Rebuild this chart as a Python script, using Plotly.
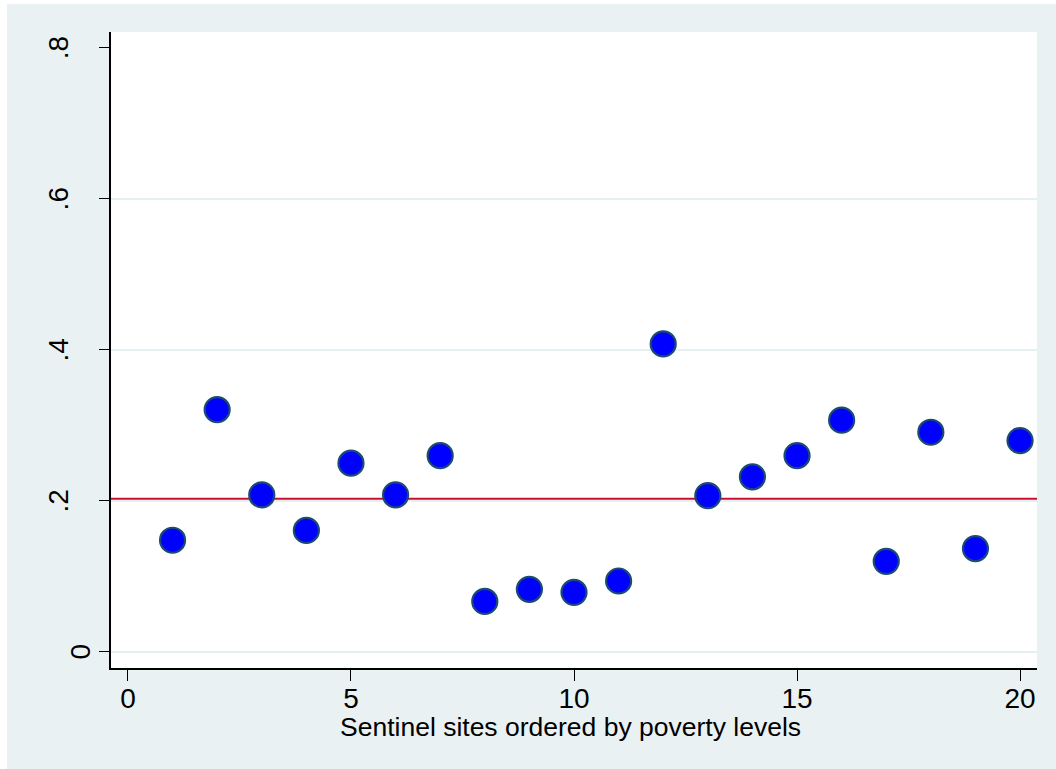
import plotly.graph_objects as go

# Sentinel sites (ordered by poverty level) and the observed proportion at each
site_rank = list(range(1, 21))
proportion = [0.148, 0.321, 0.208, 0.161, 0.250, 0.208, 0.260, 0.067, 0.083, 0.079,
              0.094, 0.408, 0.207, 0.232, 0.260, 0.307, 0.120, 0.291, 0.137, 0.280]
overall_level = 0.203

y_ticks = [0, 0.2, 0.4, 0.6, 0.8]
y_tick_text = ["0", ".2", ".4", ".6", ".8"]
x_ticks = [0, 5, 10, 15, 20]
grid_levels = [0, 0.2, 0.4, 0.6]

W, H = 1056, 769
L, R, T, B = 111, 19, 32, 101
PW, PH = W - L - R, H - T - B
BG = "#e9f1f3"
GRID = "#e6eff2"
FONT = "Liberation Sans, Arial, sans-serif"


def px_to_paper_x(px):
    return (px - L) / PW


def px_to_paper_y(py):
    return (H - B - py) / PH


fig = go.Figure()
fig.add_trace(go.Scatter(
    x=site_rank, y=proportion, mode="markers",
    marker=dict(size=25, color="#0000ff", line=dict(color="#1b4a73", width=2.2)),
    showlegend=False, cliponaxis=False,
))

shapes = []
for g in grid_levels:
    shapes.append(dict(type="line", xref="paper", yref="y", x0=0, x1=1, y0=g, y1=g,
                       line=dict(color=GRID, width=2), layer="below"))
shapes.append(dict(type="line", xref="paper", yref="y", x0=0, x1=1,
                   y0=overall_level, y1=overall_level,
                   line=dict(color="#c8102e", width=2), layer="below"))

# thin white margin along the top and left of the page
shapes.append(dict(type="rect", xref="paper", yref="paper",
                   x0=px_to_paper_x(-5), x1=px_to_paper_x(7), y0=-0.3, y1=1.2,
                   fillcolor="white", line=dict(width=0), layer="below"))
shapes.append(dict(type="rect", xref="paper", yref="paper",
                   x0=-0.2, x1=1.1, y0=px_to_paper_y(4), y1=px_to_paper_y(-5),
                   fillcolor="white", line=dict(width=0), layer="below"))

# rotated y tick labels
annotations = []
for v, t in zip(y_ticks, y_tick_text):
    cx = 80.5 if t == "0" else 58.5
    annotations.append(dict(
        text=t, x=px_to_paper_x(cx), y=v, xref="paper", yref="y",
        textangle=-90, showarrow=False, xanchor="center", yanchor="middle",
        font=dict(size=28, family=FONT, color="black"),
    ))

# x axis title
annotations.append(dict(
    text="Sentinel sites ordered by poverty levels",
    x=0.496, y=px_to_paper_y(726.5), xref="paper", yref="paper",
    showarrow=False, xanchor="center", yanchor="middle",
    font=dict(size=26.5, family=FONT, color="black"),
))

fig.update_layout(
    width=W, height=H,
    margin=dict(l=L, r=R, t=T, b=B),
    paper_bgcolor=BG, plot_bgcolor="white",
    font=dict(family=FONT, size=26, color="black"),
    shapes=shapes, annotations=annotations,
    xaxis=dict(
        range=[-0.38, 20.38], tickvals=x_ticks, ticktext=[str(v) for v in x_ticks],
        showgrid=False, zeroline=False, showline=True, linecolor="black", linewidth=1.6,
        ticks="outside", ticklen=11, tickwidth=1.4, tickcolor="black",
        tickfont=dict(size=28), ticklabelstandoff=-6,
    ),
    yaxis=dict(
        range=[-0.0212, 0.821], tickvals=y_ticks, showticklabels=False,
        showgrid=False, zeroline=False, showline=True, linecolor="black", linewidth=1.6,
        ticks="outside", ticklen=10, tickwidth=1.4, tickcolor="black",
    ),
)

fig.write_html("out.html")
